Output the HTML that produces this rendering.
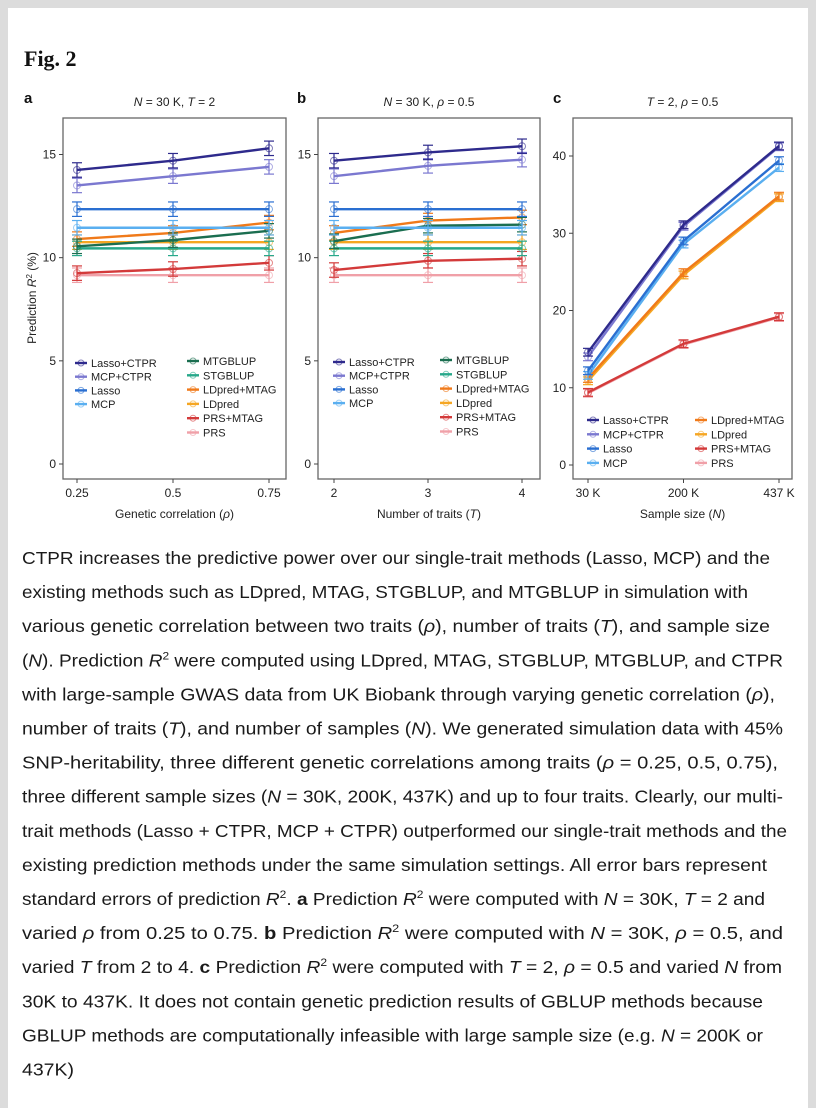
<!DOCTYPE html>
<html><head><meta charset="utf-8"><style>
body{margin:0;background:#dcdcdc;width:816px;height:1100px;overflow:hidden;font-family:"Liberation Sans",sans-serif}
#card{position:absolute;left:8px;top:8px;width:800px;height:1100px;background:#fff}
svg{position:absolute;left:0;top:0}
</style></head><body>
<div id="card"></div>
<svg id="fig" width="816" height="1100"></svg>
<script>
const seriesNames=["Lasso+CTPR","MCP+CTPR","Lasso","MCP","MTGBLUP","STGBLUP","LDpred+MTAG","LDpred","PRS+MTAG","PRS"];
const seriesColors=["#2e2a8c","#7b78d0","#2a6fd1","#5aaff0","#1b6e50","#27a88a","#f07a1a","#f5a623","#d33a3a","#f0a0a8"];
const catsA=["0.25","0.5","0.75"];
const catsB=["2","3","4"];
const catsC=["30 K","200 K","437 K"];
const valsA=[[14.25,14.7,15.3],[13.5,13.95,14.4],[12.35,12.35,12.35],[11.45,11.45,11.45],[10.55,10.85,11.3],[10.45,10.45,10.45],[10.9,11.2,11.7],[10.75,10.75,10.75],[9.25,9.45,9.75],[9.15,9.15,9.15]];
const valsB=[[14.7,15.1,15.4],[13.95,14.45,14.75],[12.35,12.35,12.35],[11.45,11.45,11.45],[10.8,11.55,11.6],[10.45,10.45,10.45],[11.2,11.8,11.95],[10.75,10.75,10.75],[9.4,9.85,9.95],[9.15,9.15,9.15]];
const valsC=[[14.6,31.1,41.3],[14.0,30.9,41.2],[12.2,29.0,39.4],[11.6,28.6,38.5],null,null,[11.2,24.9,34.8],[10.9,24.6,34.6],[9.4,15.7,19.2],[9.3,15.6,19.1]];
const errAB=0.35, errC=0.5;
const ticksAB=[0,5,10,15];
const ticksC=[0,10,20,30,40];

const NS="http://www.w3.org/2000/svg";
const svg=document.getElementById('fig');
function el(tag,attrs,parent,txt){const e=document.createElementNS(NS,tag);for(const k in attrs)e.setAttribute(k,attrs[k]);if(txt!==undefined)e.textContent=txt;(parent||svg).appendChild(e);return e;}

let t=el('text',{x:24,y:66,'font-family':'Liberation Serif,serif','font-weight':'bold','font-size':22,fill:'#111'},svg,'Fig. 2');


function panel(cfg){
  const g=el('g',{});
  
  const xs=v=>cfg.x0+(cfg.x1-cfg.x0)*v/(cfg.cats.length-1);
  const ys=v=>cfg.yz-(cfg.yz-cfg.yt)*v/cfg.ymaxTick;
  let lt=el('text',{x:cfg.lx,y:103,'font-weight':'bold','font-size':15,fill:'#111'},g,cfg.letter);
  
  let tt=el('text',{x:(cfg.bx0+cfg.bx1)/2,y:106,'text-anchor':'middle','font-size':12,fill:'#222'},g);
  tt.innerHTML=cfg.title;
  
  let box=el('rect',{x:cfg.bx0,y:118,width:cfg.bx1-cfg.bx0,height:361,fill:'none',stroke:'#666','stroke-width':1.3},g);
  
  cfg.ticks.forEach(v=>{
    el('line',{x1:cfg.bx0-4,x2:cfg.bx0,y1:ys(v),y2:ys(v),stroke:'#444'},g);
    let tl=el('text',{x:cfg.bx0-7,y:ys(v)+4,'text-anchor':'end','font-size':12,fill:'#222'},g,String(v));
    
  });
  cfg.cats.forEach((c,i)=>{
    el('line',{x1:xs(i),x2:xs(i),y1:479,y2:483,stroke:'#444'},g);
    let tl=el('text',{x:xs(i),y:497,'text-anchor':'middle','font-size':12,fill:'#222'},g,c);
    
  });
  let xt=el('text',{x:(cfg.bx0+cfg.bx1)/2,y:518,'text-anchor':'middle','font-size':12,fill:'#222'},g);
  xt.innerHTML=cfg.xtitle;
  
  for(let s=cfg.vals.length-1;s>=0;s--){
    const v=cfg.vals[s]; if(!v) continue;
    const sg=el('g',{},g);
    
    
    const pts=v.map((d,i)=>xs(i)+','+ys(d)).join(' ');
    el('polyline',{points:pts,fill:'none',stroke:seriesColors[s],'stroke-width':2.4},sg);
    v.forEach((d,i)=>{
      const x=xs(i),y1=ys(d-cfg.err),y2=ys(d+cfg.err);
      el('line',{x1:x,x2:x,y1:y1,y2:y2,stroke:seriesColors[s],'stroke-width':1.2},sg);
      el('line',{x1:x-5,x2:x+5,y1:y1,y2:y1,stroke:seriesColors[s],'stroke-width':1.2},sg);
      el('line',{x1:x-5,x2:x+5,y1:y2,y2:y2,stroke:seriesColors[s],'stroke-width':1.2},sg);
      el('circle',{cx:x,cy:ys(d),r:3.5,fill:'none',stroke:seriesColors[s],'stroke-width':1,opacity:0.6},sg);
    });
  }
  cfg.legend.forEach(col=>{
    col.items.forEach((s,j)=>{
      const y=col.y0+j*col.dy;
      const lg=el('g',{},g);
      
      el('line',{x1:col.x-6,x2:col.x+6,y1:y,y2:y,stroke:seriesColors[s],'stroke-width':2.4},lg);
      el('circle',{cx:col.x,cy:y,r:3,fill:'none',stroke:seriesColors[s],opacity:0.6},lg);
      el('text',{x:col.x+10,y:y+4,'font-size':11,fill:'#222'},lg,seriesNames[s]);
    });
  });
}
const AB_y={yz:464,yt:154.5,ymaxTick:15};
panel(Object.assign({letter:'a',lx:24,bx0:63,bx1:286,x0:77,x1:269,cats:catsA,vals:valsA,err:errAB,ticks:ticksAB,
  title:'<tspan font-style="italic">N</tspan> = 30 K, <tspan font-style="italic">T</tspan> = 2',
  xtitle:'Genetic correlation (<tspan font-style="italic">ρ</tspan>)',
  legend:[{x:81,y0:363,dy:13.7,items:[0,1,2,3]},{x:193,y0:361,dy:14.3,items:[4,5,6,7,8,9]}]},AB_y));
panel(Object.assign({letter:'b',lx:297,bx0:318,bx1:540,x0:334,x1:522,cats:catsB,vals:valsB,err:errAB,ticks:ticksAB,
  title:'<tspan font-style="italic">N</tspan> = 30 K, <tspan font-style="italic">ρ</tspan> = 0.5',
  xtitle:'Number of traits (<tspan font-style="italic">T</tspan>)',
  legend:[{x:339,y0:362,dy:13.7,items:[0,1,2,3]},{x:446,y0:360,dy:14.3,items:[4,5,6,7,8,9]}]},AB_y));
panel({letter:'c',lx:553,bx0:573,bx1:792,x0:588,x1:779,cats:catsC,vals:valsC,err:errC,ticks:ticksC,yz:465,yt:156,ymaxTick:40,
  title:'<tspan font-style="italic">T</tspan> = 2, <tspan font-style="italic">ρ</tspan> = 0.5',
  xtitle:'Sample size (<tspan font-style="italic">N</tspan>)',
  legend:[{x:593,y0:420,dy:14.3,items:[0,1,2,3]},{x:701,y0:420,dy:14.3,items:[6,7,8,9]}]});
let yt=el('text',{transform:'translate(36,298) rotate(-90)','text-anchor':'middle','font-size':12,fill:'#222'});
yt.innerHTML='Prediction <tspan font-style="italic">R</tspan><tspan font-size="8" dy="-4">2</tspan><tspan dy="4"> (%)</tspan>';


const lines=[
['CTPR increases the predictive power over our single-trait methods (Lasso, MCP) and the',770],
['existing methods such as LDpred, MTAG, STGBLUP, and MTGBLUP in simulation with',748],
['various genetic correlation between two traits (<tspan font-style="italic">ρ</tspan>), number of traits (<tspan font-style="italic">T</tspan>), and sample size',770],
['(<tspan font-style="italic">N</tspan>). Prediction <tspan font-style="italic">R</tspan><tspan font-size="11" dy="-7">2</tspan><tspan dy="7"> were computed using LDpred, MTAG, STGBLUP, MTGBLUP, and CTPR</tspan>',783],
['with large-sample GWAS data from UK Biobank through varying genetic correlation (<tspan font-style="italic">ρ</tspan>),',775],
['number of traits (<tspan font-style="italic">T</tspan>), and number of samples (<tspan font-style="italic">N</tspan>). We generated simulation data with 45%',783],
['SNP-heritability, three different genetic correlations among traits (<tspan font-style="italic">ρ</tspan> = 0.25, 0.5, 0.75),',778],
['three different sample sizes (<tspan font-style="italic">N</tspan> = 30K, 200K, 437K) and up to four traits. Clearly, our multi-',783],
['trait methods (Lasso + CTPR, MCP + CTPR) outperformed our single-trait methods and the',787],
['existing prediction methods under the same simulation settings. All error bars represent',767],
['standard errors of prediction <tspan font-style="italic">R</tspan><tspan font-size="11" dy="-7">2</tspan><tspan dy="7">. </tspan><tspan font-weight="bold">a</tspan> Prediction <tspan font-style="italic">R</tspan><tspan font-size="11" dy="-7">2</tspan><tspan dy="7"> were computed with </tspan><tspan font-style="italic">N</tspan> = 30K, <tspan font-style="italic">T</tspan> = 2 and',765],
['varied <tspan font-style="italic">ρ</tspan> from 0.25 to 0.75. <tspan font-weight="bold">b</tspan> Prediction <tspan font-style="italic">R</tspan><tspan font-size="11" dy="-7">2</tspan><tspan dy="7"> were computed with </tspan><tspan font-style="italic">N</tspan> = 30K, <tspan font-style="italic">ρ</tspan> = 0.5, and',783],
['varied <tspan font-style="italic">T</tspan> from 2 to 4. <tspan font-weight="bold">c</tspan> Prediction <tspan font-style="italic">R</tspan><tspan font-size="11" dy="-7">2</tspan><tspan dy="7"> were computed with </tspan><tspan font-style="italic">T</tspan> = 2, <tspan font-style="italic">ρ</tspan> = 0.5 and varied <tspan font-style="italic">N</tspan> from',782],
['30K to 437K. It does not contain genetic prediction results of GBLUP methods because',763],
['GBLUP methods are computationally infeasible with large sample size (e.g. <tspan font-style="italic">N</tspan> = 200K or',763],
['437K)',74]];
lines.forEach((l,i)=>{
  const tx=el('text',{x:22,y:564+i*34.1,'font-size':17.5,fill:'#1a1a1a',textLength:l[1]-22,lengthAdjust:'spacingAndGlyphs'});
  tx.innerHTML=l[0];
  
  
});
</script>
</body></html>
